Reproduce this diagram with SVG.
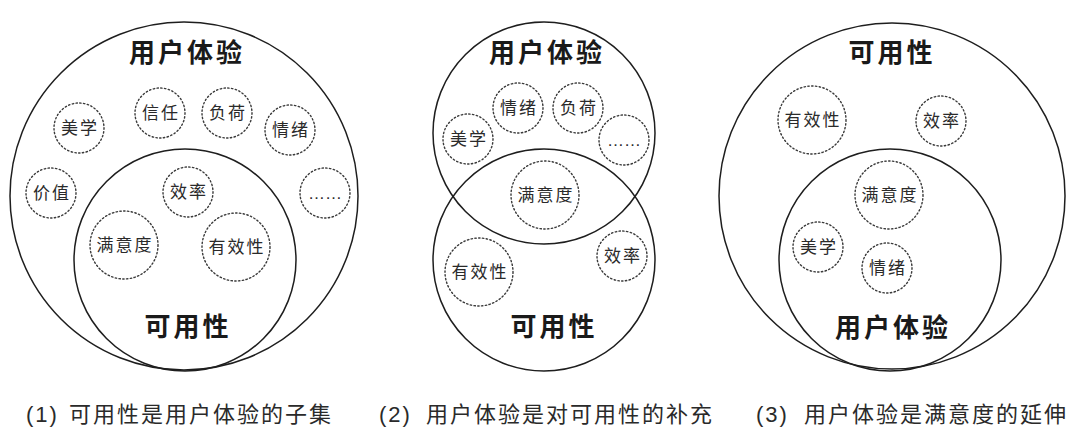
<svg xmlns="http://www.w3.org/2000/svg" width="1080" height="448" viewBox="0 0 1080 448">
<style>
  .big { fill: none; stroke: #1e1e1e; stroke-width: 1.5; }
  .dot { fill: none; stroke: #3a3a3a; stroke-width: 1.4; stroke-dasharray: 1.4 2.4; stroke-linecap: round; }
  text { font-family: "Liberation Sans", "Noto Sans CJK SC", sans-serif; fill: #1a1a1a; }
  .title { font-size: 26px; font-weight: bold; letter-spacing: 3px; text-anchor: middle; }
  .lbl { font-size: 17px; letter-spacing: 2px; text-anchor: middle; fill: #2a2a2a; }
  .cap { font-size: 22px; letter-spacing: 2px; fill: #2a2a2a; }
</style>
<rect width="1080" height="448" fill="#ffffff"/>

<!-- Diagram 1 -->
<g id="d1-ux">
  <circle class="big" cx="184" cy="196" r="174"/>
  <text class="title" x="187" y="62">用户体验</text>
</g>
<g id="d1-usability">
  <circle class="big" cx="185" cy="260" r="111"/>
  <text class="title" x="188" y="336">可用性</text>
</g>
<g id="d1-meixue"><circle class="dot" cx="79" cy="128" r="25"/><text class="lbl" x="80" y="134">美学</text></g>
<g id="d1-xinren"><circle class="dot" cx="160" cy="113" r="25"/><text class="lbl" x="161" y="119">信任</text></g>
<g id="d1-fuhe"><circle class="dot" cx="227" cy="113" r="25"/><text class="lbl" x="228" y="119">负荷</text></g>
<g id="d1-qingxu"><circle class="dot" cx="290" cy="130" r="25"/><text class="lbl" x="291" y="136">情绪</text></g>
<g id="d1-jiazhi"><circle class="dot" cx="51" cy="193" r="25"/><text class="lbl" x="52" y="199">价值</text></g>
<g id="d1-xiaolv"><circle class="dot" cx="188" cy="192" r="25"/><text class="lbl" x="189" y="198">效率</text></g>
<g id="d1-more"><circle class="dot" cx="325" cy="193" r="25"/><text class="lbl" x="325" y="199" style="letter-spacing:0">……</text></g>
<g id="d1-manyidu"><circle class="dot" cx="124" cy="245" r="34"/><text class="lbl" x="125" y="251">满意度</text></g>
<g id="d1-youxiaoxing"><circle class="dot" cx="236" cy="247" r="34"/><text class="lbl" x="237" y="253">有效性</text></g>

<!-- Diagram 2 -->
<g id="d2-ux">
  <circle class="big" cx="544" cy="133" r="111"/>
  <text class="title" x="547" y="62">用户体验</text>
</g>
<g id="d2-usability">
  <circle class="big" cx="544" cy="260" r="111"/>
  <text class="title" x="554" y="336">可用性</text>
</g>
<g id="d2-qingxu"><circle class="dot" cx="518" cy="108" r="25"/><text class="lbl" x="519" y="114">情绪</text></g>
<g id="d2-fuhe"><circle class="dot" cx="578" cy="108" r="25"/><text class="lbl" x="579" y="114">负荷</text></g>
<g id="d2-meixue"><circle class="dot" cx="468" cy="139" r="25"/><text class="lbl" x="469" y="145">美学</text></g>
<g id="d2-more"><circle class="dot" cx="624" cy="140" r="25"/><text class="lbl" x="624" y="146" style="letter-spacing:0">……</text></g>
<g id="d2-manyidu"><circle class="dot" cx="545" cy="195" r="34"/><text class="lbl" x="546" y="201">满意度</text></g>
<g id="d2-youxiaoxing"><circle class="dot" cx="479" cy="272" r="34"/><text class="lbl" x="480" y="278">有效性</text></g>
<g id="d2-xiaolv"><circle class="dot" cx="622" cy="256" r="25"/><text class="lbl" x="623" y="262">效率</text></g>

<!-- Diagram 3 -->
<g id="d3-usability">
  <circle class="big" cx="892" cy="196" r="173"/>
  <text class="title" x="892" y="62">可用性</text>
</g>
<g id="d3-ux">
  <circle class="big" cx="890" cy="260" r="111"/>
  <text class="title" x="893" y="337">用户体验</text>
</g>
<g id="d3-youxiaoxing"><circle class="dot" cx="812" cy="120" r="34"/><text class="lbl" x="813" y="126">有效性</text></g>
<g id="d3-xiaolv"><circle class="dot" cx="941" cy="121" r="25"/><text class="lbl" x="942" y="127">效率</text></g>
<g id="d3-manyidu"><circle class="dot" cx="889" cy="195" r="34"/><text class="lbl" x="890" y="201">满意度</text></g>
<g id="d3-meixue"><circle class="dot" cx="818" cy="247" r="25"/><text class="lbl" x="819" y="253">美学</text></g>
<g id="d3-qingxu"><circle class="dot" cx="887" cy="268" r="25"/><text class="lbl" x="888" y="274">情绪</text></g>

<g id="connectors"></g>

<!-- Captions -->
<text class="cap" x="26" y="422">(1)<tspan x="69">可用性是用户体验的子集</tspan></text>
<text class="cap" x="379" y="422">(2)<tspan x="426">用户体验是对可用性的补充</tspan></text>
<text class="cap" x="756" y="422">(3)<tspan x="804">用户体验是满意度的延伸</tspan></text>
</svg>
